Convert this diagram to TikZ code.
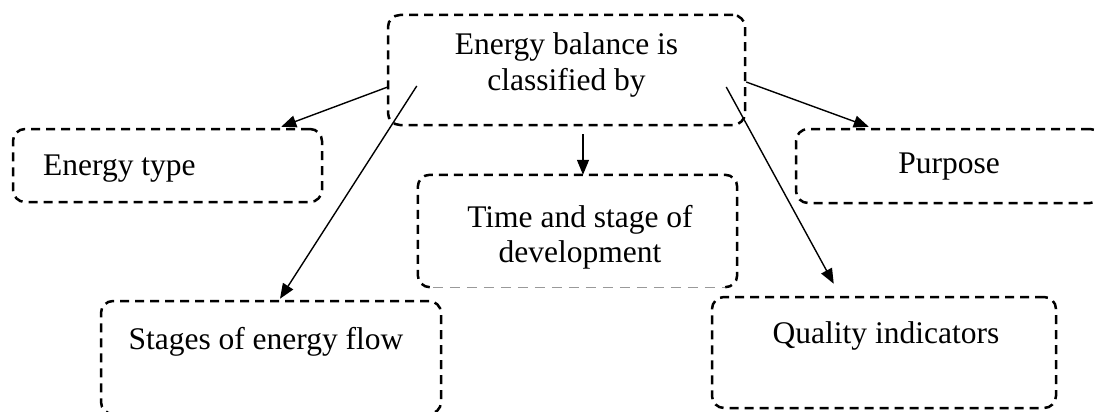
\documentclass[tikz,border=0pt]{standalone}
\usepackage{fontspec}
\setmainfont{Liberation Serif}
\usetikzlibrary{arrows.meta,calc}

\tikzset{
  box/.style={draw=black, line width=2.5pt, dash pattern=on 9pt off 6pt,
              rounded corners=12pt, inner sep=0pt, rectangle},
  openbox/.style={inner sep=0pt, rectangle},
  boxline/.style={draw=black, line width=2.5pt, dash pattern=on 9pt off 6pt,
                  rounded corners=12pt},
  faintline/.style={draw=black!40, line width=1pt, dash pattern=on 10pt off 7pt},
  lbl/.style={font=\fontsize{31.5}{35}\selectfont, inner sep=0pt},
  link/.style={draw=black, line width=1.4pt, -{Triangle[length=15pt,width=12pt]}}
}

\begin{document}
\begin{tikzpicture}[x=1pt,y=-1pt]
  \useasboundingbox (0,0) rectangle (1097,412);

  % central box
  \node[box, minimum width=357pt, minimum height=110pt] (top) at (566.5,70) {};
  \node[lbl, anchor=base] (top1) at (566.5,55) {Energy balance is};
  \node[lbl, anchor=base] (top2) at (566.5,90) {classified by};

  % first row
  \node[box, minimum width=309pt, minimum height=73pt] (etype) at (167.5,165.5) {};
  \node[lbl, anchor=base west] (etypet) at (43,175) {Energy type};

  \node[box, minimum width=306pt, minimum height=74pt] (purpose) at (949,166) {};
  \node[lbl, anchor=base] (purposet) at (949,173) {Purpose};

  % middle box, its lower edge is a faint line
  \node[openbox, minimum width=319pt, minimum height=112pt] (time) at (577.5,231) {};
  \draw[boxline] ($(time.south west)+(12,0)$) -- (time.south west) -- (time.north west)
     -- (time.north east) -- (time.south east) -- ($(time.south east)+(-12,0)$);
  \draw[faintline] ($(time.south west)+(15,0)$) -- ($(time.south east)+(-12,0)$);
  \node[lbl, anchor=base] (time1) at (580,227) {Time and stage of};
  \node[lbl, anchor=base] (time2) at (580,262) {development};

  % bottom row
  \node[box, minimum width=340pt, minimum height=113pt] (stages) at (271,357.5) {};
  \node[lbl, anchor=base] (stagest) at (266,349) {Stages of energy flow};

  \node[box, minimum width=344pt, minimum height=111pt] (quality) at (884,352.5) {};
  \node[lbl, anchor=base] (qualityt) at (886,343) {Quality indicators};

  % connectors
  \draw[link] ($(top.west)+(1,17)$) -- ($(etype.north east)+(-42,-1)$);
  \draw[link] ($(top.west)+(30,16)$) -- ($(stages.north)+(9,-1)$);
  \draw[link] ($(top.south)+(16.5,8)$) -- ($(time.north)+(5.5,0)$);
  \draw[link] ($(top.east)+(0,12)$) -- ($(purpose.north west)+(74,-1)$);
  \draw[link] ($(top.east)+(-20,17)$) -- ($(quality.north west)+(123,-12)$);
\end{tikzpicture}
\end{document}
